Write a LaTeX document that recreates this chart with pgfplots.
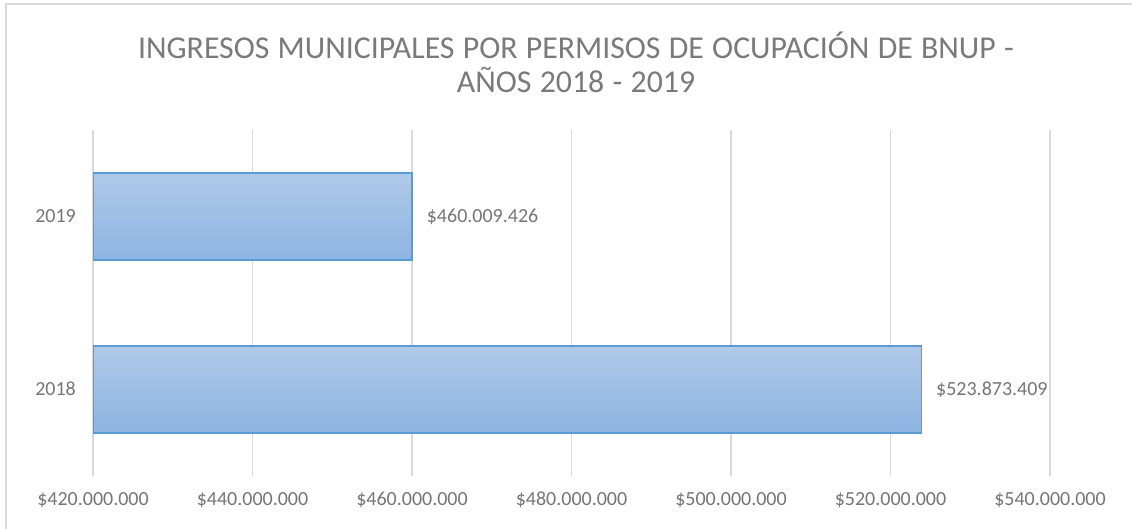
\documentclass[border=0pt]{standalone}
\usepackage{fontspec}
\setmainfont{Carlito}
\usepackage{pgfplots}
\pgfplotsset{compat=1.18}
\definecolor{gridgray}{HTML}{D9D9D9}
\definecolor{txtgray}{HTML}{757575}
\definecolor{titlegray}{HTML}{7A7A7A}
\definecolor{bartop}{HTML}{B0C9E8}
\definecolor{barbot}{HTML}{8DB4E2}
\definecolor{barline}{HTML}{5B9BD5}
\newcommand{\widespace}{\spaceskip=8.3pt\relax}
\begin{document}
\begin{tikzpicture}
\path[use as bounding box] (0,0) rectangle (1132pt,529pt);
\draw[gridgray, line width=2pt] (6pt,0pt) -- (6pt,525pt) -- (1140pt,525pt);
\node[font=\fontsize{31.8}{34}\selectfont\widespace, text=titlegray, align=center] at (576pt,467pt)
  {INGRESOS MUNICIPALES POR PERMISOS DE OCUPACIÓN DE BNUP -\\AÑOS 2018 - 2019};
\begin{axis}[
  at={(93pt,53pt)}, anchor=south west, scale only axis,
  width=957pt, height=346pt,
  xbar, bar width=87pt, bar shift=0pt,
  xmin=420000000, xmax=540000000, ymin=-0.5, ymax=1.5,
  xtick={420000000,440000000,460000000,480000000,500000000,520000000,540000000},
  xticklabels={\$420.000.000,\$440.000.000,\$460.000.000,\$480.000.000,\$500.000.000,\$520.000.000,\$540.000.000},
  ytick={0,1}, yticklabels={2018,2019},
  xmajorgrids, grid style={draw=gridgray, line width=1.6pt},
  axis line style={draw=none}, major tick length=0pt,
  tick label style={font=\fontsize{20}{24}\selectfont, text=txtgray, inner sep=0pt},
  xticklabel style={anchor=base, yshift=-30pt},
  yticklabel style={anchor=base east, xshift=-17pt, yshift=-6.5pt},
  nodes near coords, point meta=explicit symbolic,
  every node near coord/.append style={font=\fontsize{20}{24}\selectfont, text=txtgray, anchor=base west, inner sep=0pt, xshift=14pt, yshift=-6.5pt},
]
\addplot[draw=barline, line width=1.5pt, top color=bartop, bottom color=barbot]
  coordinates {(523873409,0) [\$523.873.409]};
\addplot[draw=barline, line width=1.5pt, top color=bartop, bottom color=barbot]
  coordinates {(460009426,1) [\$460.009.426]};
\end{axis}
\end{tikzpicture}
\end{document}
